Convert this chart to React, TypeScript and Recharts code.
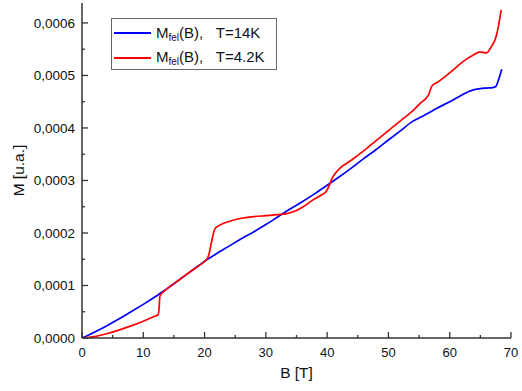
import React from 'react';
import { LineChart, Line, XAxis, YAxis, Legend, Label } from 'recharts';

// Series: T = 14K (blue)
const b14: number[] = [0, 2, 4, 6, 8, 10, 12, 13, 14, 16, 18, 20, 22, 24, 26, 28, 30, 32, 34, 36, 38, 40, 42, 44, 46, 48, 50, 52, 54, 55, 56, 58, 60, 62, 63, 64, 65, 66, 67, 67.5, 68, 68.5];
const m14: number[] = [0, 0.11, 0.23, 0.36, 0.5, 0.64, 0.79, 0.87, 0.95, 1.12, 1.29, 1.46, 1.61, 1.75, 1.89, 2.02, 2.16, 2.31, 2.46, 2.6, 2.75, 2.91, 3.07, 3.24, 3.42, 3.59, 3.77, 3.95, 4.13, 4.19, 4.25, 4.38, 4.5, 4.63, 4.69, 4.73, 4.75, 4.76, 4.77, 4.79, 4.93, 5.12];

// Series: T = 4.2K (red)
const b42: number[] = [0, 2, 4, 6, 8, 10, 11, 12, 12.4, 12.6, 12.7, 13.3, 14, 16, 18, 19, 20, 20.6, 21, 21.3, 21.7, 22.5, 24, 26, 28, 30, 32, 33.4, 35, 36.1, 37.7, 39, 39.9, 40.4, 40.8, 41.8, 44, 46, 48, 50, 52, 54, 55.1, 56, 56.5, 57.1, 58, 60, 62, 64, 64.9, 66, 66.8, 67.4, 67.8, 68.4];
const m42: number[] = [0, 0.025, 0.08, 0.15, 0.23, 0.32, 0.37, 0.42, 0.44, 0.6, 0.79, 0.88, 0.95, 1.12, 1.29, 1.37, 1.46, 1.55, 1.75, 1.92, 2.08, 2.15, 2.22, 2.28, 2.31, 2.33, 2.35, 2.37, 2.43, 2.5, 2.63, 2.72, 2.8, 2.92, 3.04, 3.2, 3.39, 3.57, 3.76, 3.95, 4.14, 4.33, 4.46, 4.55, 4.62, 4.8, 4.87, 5.05, 5.25, 5.4, 5.45, 5.43, 5.55, 5.68, 5.85, 6.25];

const SCALE = 1e-4;
const xTicks: number[] = [0, 5, 10, 15, 20, 25, 30, 35, 40, 45, 50, 55, 60, 65, 70];
const xMajor: number[] = [0, 10, 20, 30, 40, 50, 60, 70];
const yTicksU: number[] = [0, 0.5, 1, 1.5, 2, 2.5, 3, 3.5, 4, 4.5, 5, 5.5, 6];
const yMajorU: number[] = [0, 1, 2, 3, 4, 5, 6];
const yLabels: string[] = ['0,0000', '0,0001', '0,0002', '0,0003', '0,0004', '0,0005', '0,0006'];

const legendNames: string[] = ['T=14K', 'T=4.2K'];
const seriesColors: string[] = ['#0000ff', '#ff0000'];

const data14 = b14.map((b, i) => ({ B: b, M: m14[i] * SCALE }));
const data42 = b42.map((b, i) => ({ B: b, M: m42[i] * SCALE }));
const yTicks = yTicksU.map((v) => v * SCALE);

const AXIS = '#333';
const FONT = '"Liberation Sans", Arial, sans-serif';

const isMajorX = (v: number) => xMajor.some((m) => Math.abs(m - v) < 1e-9);
const isMajorY = (v: number) => yMajorU.some((m) => Math.abs(m * SCALE - v) < 1e-12);

const BottomTick = (props: any) => {
  const { x, y, payload } = props;
  const major = isMajorX(payload.value);
  return (
    <g>
      <line x1={x} x2={x} y1={y} y2={y - (major ? 6 : 3)} stroke={AXIS} strokeWidth={1.3} />
      {major && (
        <text x={x} y={y + 19} textAnchor="middle" fontSize={13} fontFamily={FONT} fill="#111">
          {payload.value}
        </text>
      )}
    </g>
  );
};

const TopTick = (props: any) => {
  const { x, y, payload } = props;
  const major = isMajorX(payload.value);
  return <line x1={x} x2={x} y1={y} y2={y + (major ? 6 : 3)} stroke={AXIS} strokeWidth={1.3} />;
};

const LeftTick = (props: any) => {
  const { x, y, payload } = props;
  const major = isMajorY(payload.value);
  const idx = yMajorU.findIndex((m) => Math.abs(m * SCALE - payload.value) < 1e-12);
  return (
    <g>
      <line x1={x} x2={x + (major ? 6 : 3)} y1={y} y2={y} stroke={AXIS} strokeWidth={1.3} />
      {major && (
        <text x={x - 7} y={y + 4.7} textAnchor="end" fontSize={13.5} fontFamily={FONT} fill="#111">
          {yLabels[idx]}
        </text>
      )}
    </g>
  );
};

const RightTick = (props: any) => {
  const { x, y, payload } = props;
  const major = isMajorY(payload.value);
  return <line x1={x} x2={x - (major ? 6 : 3)} y1={y} y2={y} stroke={AXIS} strokeWidth={1.3} />;
};

const LegendBox = () => (
  <div
    style={{
      border: '1px solid #666',
      width: 164,
      height: 50,
      boxSizing: 'content-box',
      background: '#fff',
      fontFamily: FONT,
      fontSize: 15,
      color: '#111',
      position: 'relative',
    }}
  >
    {legendNames.map((n, i) => (
      <div
        key={n}
        style={{ position: 'absolute', left: 2, top: 4 + i * 24.5, height: 20, display: 'flex', alignItems: 'center', whiteSpace: 'nowrap' }}
      >
        <span style={{ display: 'inline-block', width: 37, height: 2, background: seriesColors[i], marginRight: 5 }} />
        <span>
          M<sub style={{ fontSize: 10, verticalAlign: '-3px' }}>fel</sub>(B),&nbsp;&nbsp;&nbsp;{n}
        </span>
      </div>
    ))}
  </div>
);

export default function App() {
  return (
    <div style={{ position: 'absolute', left: 0, top: 0, background: '#fff' }}>
      <LineChart width={522} height={391} margin={{ top: 3, right: 11, left: 0, bottom: 0 }}>
        <XAxis
          xAxisId="b"
          dataKey="B"
          type="number"
          domain={[0, 70]}
          ticks={xTicks}
          interval={0}
          height={53}
          tickSize={0}
          tickMargin={0}
          tickLine={false}
          axisLine={{ stroke: AXIS, strokeWidth: 1.5 }}
          tick={<BottomTick />}
          allowDataOverflow
        >
          <Label
            content={() => (
              <text x={296.5} y={378.3} textAnchor="middle" fontSize={15.5} fontFamily={FONT} fill="#111">
                B [T]
              </text>
            )}
          />
        </XAxis>
        <XAxis
          xAxisId="t"
          orientation="top"
          dataKey="B"
          type="number"
          domain={[0, 70]}
          ticks={xTicks}
          interval={0}
          height={0}
          tickSize={0}
          tickMargin={0}
          tickLine={false}
          axisLine={{ stroke: AXIS, strokeWidth: 1.5 }}
          tick={<TopTick />}
        />
        <YAxis
          yAxisId="l"
          type="number"
          domain={[0, 0.000638]}
          ticks={yTicks}
          interval={0}
          width={82}
          tickSize={0}
          tickMargin={0}
          tickLine={false}
          axisLine={{ stroke: AXIS, strokeWidth: 1.5 }}
          tick={<LeftTick />}
          allowDataOverflow
        >
          <Label
            content={() => (
              <text
                x={24}
                y={170.5}
                textAnchor="middle"
                fontSize={15.5}
                fontFamily={FONT}
                fill="#111"
                transform="rotate(-90, 24, 170.5)"
              >
                M [u.a.]
              </text>
            )}
          />
        </YAxis>
        <YAxis
          yAxisId="r"
          orientation="right"
          type="number"
          domain={[0, 0.000638]}
          ticks={yTicks}
          interval={0}
          width={0}
          tickSize={0}
          tickMargin={0}
          tickLine={false}
          axisLine={{ stroke: AXIS, strokeWidth: 1.5 }}
          tick={<RightTick />}
        />
        <Legend
          layout="vertical"
          align="center"
          verticalAlign="middle"
          content={<LegendBox />}
          wrapperStyle={{ left: 111, top: 18, width: 166, height: 52 }}
        />
        <Line
          xAxisId="b"
          yAxisId="l"
          data={data14}
          dataKey="M"
          type="monotone"
          stroke={seriesColors[0]}
          strokeWidth={1.7}
          dot={false}
          isAnimationActive={false}
        />
        <Line
          xAxisId="b"
          yAxisId="l"
          data={data42}
          dataKey="M"
          type="monotone"
          stroke={seriesColors[1]}
          strokeWidth={1.7}
          dot={false}
          isAnimationActive={false}
        />
      </LineChart>
    </div>
  );
}
